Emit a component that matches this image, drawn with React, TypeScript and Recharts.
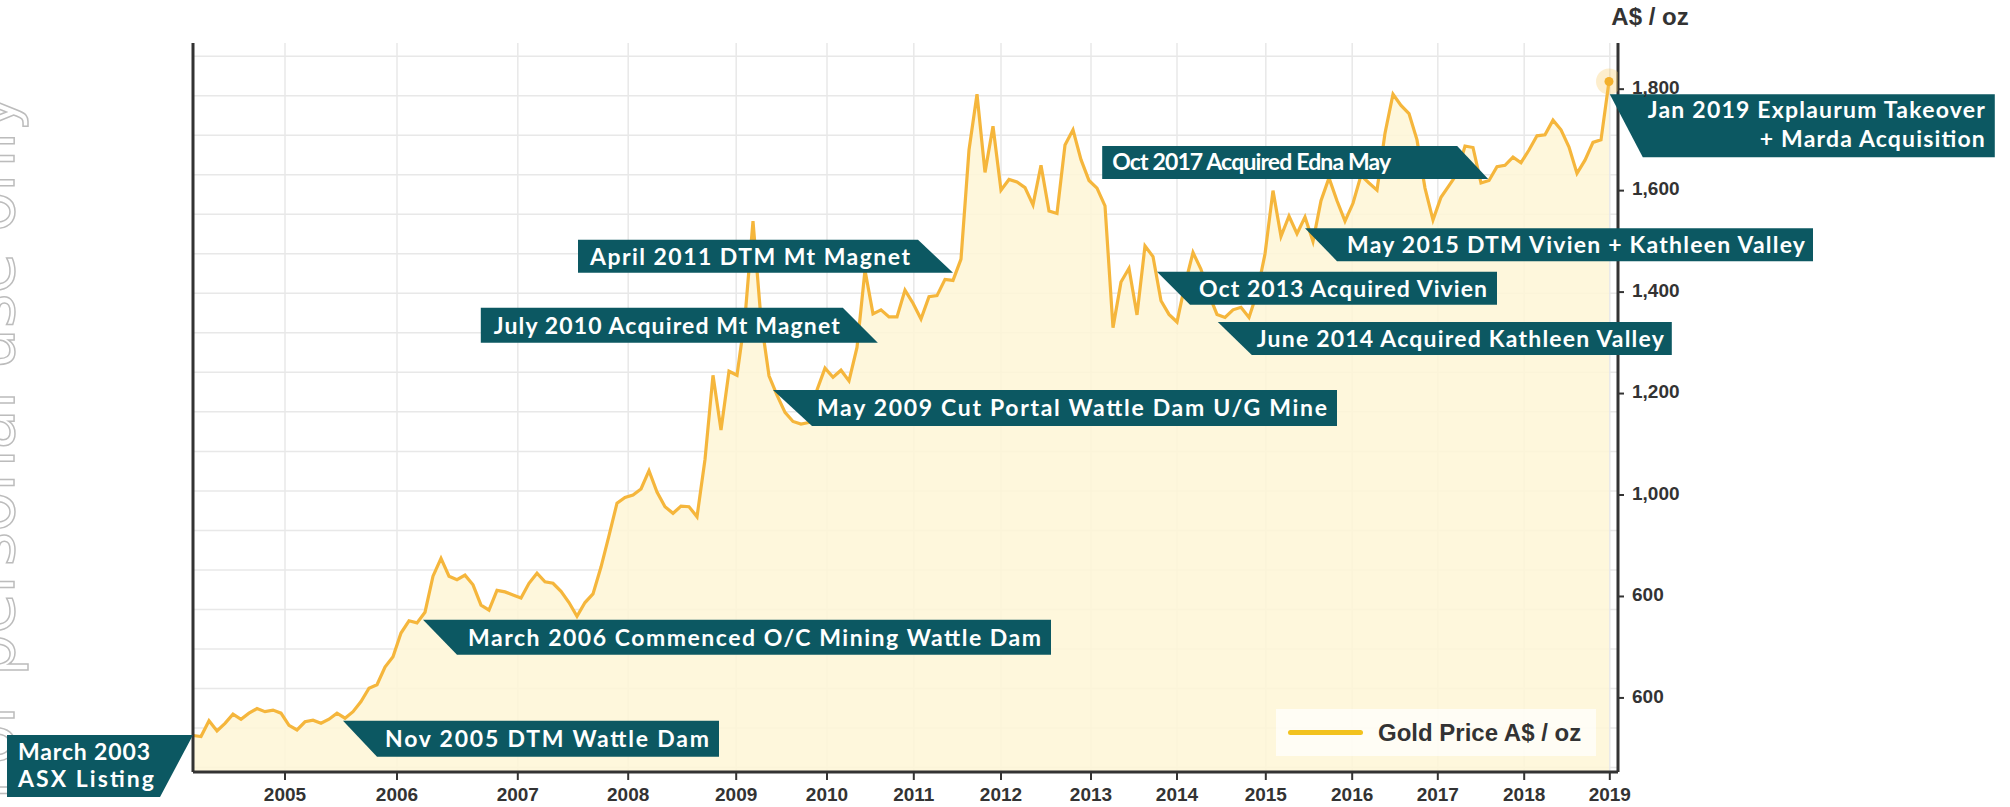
import React from "react";
import { AreaChart, Area, XAxis, YAxis, CartesianGrid, ReferenceDot, ReferenceLine } from "recharts";

// gold price A$/oz, one reading per step along the time axis (early years are drawn wider)
const prices = [
  526, 524, 555, 535, 550, 568, 558, 570, 579, 573,
  576, 570, 546, 537, 553, 556, 550, 558, 570, 560,
  573, 593, 619, 626, 661, 681, 728, 752, 748, 769,
  840, 875, 840, 833, 842, 823, 783, 773, 812, 809,
  803, 797, 826, 846, 829, 826, 810, 788, 761, 788,
  805, 858, 920, 984, 995, 1000, 1012, 1048, 1006, 977,
  964, 978, 977, 957, 1070, 1236, 1128, 1244, 1236, 1350,
  1540, 1346, 1235, 1197, 1163, 1145, 1140, 1143, 1207, 1250,
  1232, 1246, 1225, 1291, 1443, 1357, 1365, 1351, 1351, 1404,
  1378, 1347, 1391, 1393, 1425, 1423, 1465, 1680, 1790, 1636,
  1727, 1601, 1622, 1617, 1606, 1572, 1650, 1560, 1555, 1690,
  1720, 1661, 1620, 1605, 1570, 1330, 1420, 1447, 1355, 1491,
  1470, 1383, 1356, 1341, 1415, 1478, 1445, 1395, 1356, 1350,
  1365, 1370, 1350, 1398, 1475, 1600, 1510, 1550, 1515, 1548,
  1500, 1580, 1625, 1580, 1540, 1575, 1630, 1615, 1601, 1713,
  1790, 1768, 1752, 1700, 1605, 1542, 1587, 1610, 1633, 1688,
  1685, 1615, 1620, 1647, 1650, 1666, 1655, 1680, 1708, 1710,
  1739, 1720, 1686, 1634, 1660, 1695, 1700, 1815,
];

const yearTicks = [11.5, 25.5, 40.6, 54.4, 67.9, 79.25, 90.1, 101, 112.25, 123, 134.1, 144.9, 155.6, 166.4, 177.1];
const yearLabels = ["2005", "2006", "2007", "2008", "2009", "2010", "2011", "2012", "2013", "2014", "2015", "2016", "2017", "2018", "2019"];

const priceTicks = [600, 800, 1000, 1200, 1400, 1600, 1800];
const priceTickLabels = ["600", "600", "1,000", "1,200", "1,400", "1,600", "1,800"];

// company milestones: where the callout touches the price line, and its text
const eventX = [0, 18.75, 28.75, 72.5, 85.6, 95, 120.5, 128.1, 139, 161.9, 177.1];
const eventPrice = [527, 555, 754, 1207, 1300, 1438, 1440, 1341, 1526, 1623, 1790];
const eventText = [
  ["March 2003", "ASX Listing"],
  ["Nov 2005 DTM Wattle Dam"],
  ["March 2006 Commenced O/C Mining Wattle Dam"],
  ["May 2009 Cut Portal Wattle Dam U/G Mine"],
  ["July 2010 Acquired Mt Magnet"],
  ["April 2011 DTM Mt Magnet"],
  ["Oct 2013 Acquired Vivien"],
  ["June 2014 Acquired Kathleen Valley"],
  ["May 2015 DTM Vivien + Kathleen Valley"],
  ["Oct 2017 Acquired Edna May"],
  ["Jan 2019 Explaurum Takeover", "+ Marda Acquisition"],
];

// callout box geometry in px relative to the touch point, plus text widths
const calloutBoxes = [
  { tip: "tr", w: 186, h: 62, s: 33, tx: -175, ty: [25, 52], tw: [132, 136], anchor: "start" },
  { tip: "tl", w: 376, h: 36, s: 34, tx: 42, ty: [26], tw: [324], anchor: "start" },
  { tip: "tl", w: 628, h: 35, s: 34, tx: 45, ty: [26], tw: [573], anchor: "start" },
  { tip: "tl", w: 564, h: 36, s: 39, tx: 44, ty: [26], tw: [510], anchor: "start" },
  { tip: "br", w: 397, h: 35, s: 35, tx: -384, ty: [-9], tw: [346], anchor: "start" },
  { tip: "br", w: 375, h: 33, s: 35, tx: -363, ty: [-8], tw: [320], anchor: "start" },
  { tip: "tl", w: 340, h: 33, s: 33, tx: 42, ty: [25], tw: [288], anchor: "start" },
  { tip: "tl", w: 454, h: 33, s: 34, tx: 39, ty: [25], tw: [407], anchor: "start" },
  { tip: "tl", w: 508, h: 33, s: 32, tx: 42, ty: [25], tw: [458], anchor: "start" },
  { tip: "br", w: 386, h: 33, s: 31, tx: -376, ty: [-9], tw: [279], anchor: "start" },
  { tip: "tl", w: 385, h: 63, s: 33, tx: 375, ty: [24, 53], tw: [337, 225], anchor: "end" },
];

const data = prices.map((price, i) => ({ i, price }));

const TEAL = "#0c5862";
const AXIS = "#333333";
const axisFont = "'Liberation Sans', Arial, sans-serif";

const gridValues: number[] = [];
for (let v = 1865; v > 454; v -= 77.9) gridValues.push(v);

function Callout({ cx, cy, idx }: { cx: number; cy: number; idx: number }) {
  const b = calloutBoxes[idx];
  const { w, h, s } = b;
  let pts: number[][];
  if (b.tip === "tl") pts = [[0, 0], [w, 0], [w, h], [s, h]];
  else if (b.tip === "br") pts = [[-w, -h], [-s, -h], [0, 0], [-w, 0]];
  else pts = [[-w, 0], [0, 0], [-s, h], [-w, h]];
  return (
    <g>
      <polygon points={pts.map(([a, c]) => `${cx + a},${cy + c}`).join(" ")} fill={TEAL} />
      {eventText[idx].map((t, j) => (
        <text
          key={j}
          x={cx + b.tx}
          y={cy + b.ty[j]}
          fill="#ffffff"
          fontFamily="Lato, 'Open Sans', sans-serif"
          fontWeight={700}
          fontSize={23}
          textAnchor={b.anchor as any}
          textLength={b.tw[j]}
          lengthAdjust="spacing"
        >
          {t}
        </text>
      ))}
    </g>
  );
}

const renderEndDot = (props: any) => {
  const { cx, cy, index } = props;
  if (index !== prices.length - 1) return <g key={`d${index}`} />;
  return (
    <g key={`d${index}`}>
      <circle cx={cx} cy={cy} r={13} fill="#f7c75a" fillOpacity={0.3} />
      <circle cx={cx} cy={cy} r={4.5} fill="#f3b02c" />
    </g>
  );
};

export default function App() {
  return (
    <div style={{ position: "absolute", left: 0, top: 0, width: 2010, height: 807, background: "#fff" }}>
      <svg width={60} height={807} style={{ position: "absolute", left: 0, top: 0 }}>
        <text
          transform="translate(14, 800) rotate(-90)"
          fontFamily="'DejaVu Sans', sans-serif"
          fontSize={66}
          fill="#ffffff"
          stroke="#bcbcbc"
          strokeWidth={1.5}
        >
          For personal use only
        </text>
      </svg>
      <div style={{ position: "absolute", left: 0, top: 0 }}>
        <AreaChart width={2010} height={807} data={data} margin={{ top: 43, right: 328, bottom: 5, left: 193 }}>
          <CartesianGrid stroke="#e8e8e8" strokeWidth={1.5} horizontalValues={gridValues} />
          <XAxis
            dataKey="i"
            type="number"
            domain={[0, 178.125]}
            allowDataOverflow
            ticks={yearTicks}
            interval={0}
            tickFormatter={(v: number) => yearLabels[yearTicks.indexOf(v)]}
            height={30}
            tickSize={8}
            tickMargin={8}
            axisLine={{ stroke: AXIS, strokeWidth: 3 }}
            tickLine={{ stroke: AXIS, strokeWidth: 2 }}
            tick={{ fill: AXIS, fontSize: 19, fontWeight: 700, fontFamily: axisFont }}
          />
          <YAxis
            orientation="right"
            type="number"
            width={64}
            domain={[454, 1891]}
            allowDataOverflow
            ticks={priceTicks}
            interval={0}
            tickFormatter={(v: number) => priceTickLabels[priceTicks.indexOf(v)]}
            tickSize={6}
            tickMargin={8}
            axisLine={{ stroke: AXIS, strokeWidth: 3 }}
            tickLine={{ stroke: AXIS, strokeWidth: 2 }}
            tick={{ fill: AXIS, fontSize: 19, fontWeight: 700, fontFamily: axisFont, dy: -2 }}
          />
          <Area
            type="linear"
            dataKey="price"
            stroke="#f5b63c"
            strokeWidth={3.2}
            fill="#fef6d6"
            fillOpacity={0.85}
            dot={renderEndDot}
            activeDot={false}
            isAnimationActive={false}
          />
          <ReferenceLine x={0} stroke={AXIS} strokeWidth={3} ifOverflow="visible" />
          {eventX.map((x, k) => (
            <ReferenceDot
              key={k}
              x={x}
              y={eventPrice[k]}
              r={0}
              ifOverflow="visible"
              shape={(p: any) => <Callout cx={p.cx} cy={p.cy} idx={k} />}
            />
          ))}
        </AreaChart>
      </div>
      <div
        style={{
          position: "absolute",
          left: 1610,
          top: 5,
          width: 80,
          textAlign: "center",
          fontFamily: axisFont,
          fontWeight: 700,
          fontSize: 24,
          lineHeight: "24px",
          color: AXIS,
        }}
      >
        A$ / oz
      </div>
      <div
        style={{
          position: "absolute",
          left: 1276,
          top: 709,
          width: 320,
          height: 47,
          background: "rgba(255,255,255,0.7)",
          display: "flex",
          alignItems: "center",
          fontFamily: axisFont,
          fontWeight: 700,
          fontSize: 24,
          color: AXIS,
        }}
      >
        <span style={{ display: "inline-block", width: 75, height: 5, borderRadius: 3, background: "#f2c21e", marginLeft: 12, marginRight: 15 }} />
        Gold Price A$ / oz
      </div>
    </div>
  );
}
